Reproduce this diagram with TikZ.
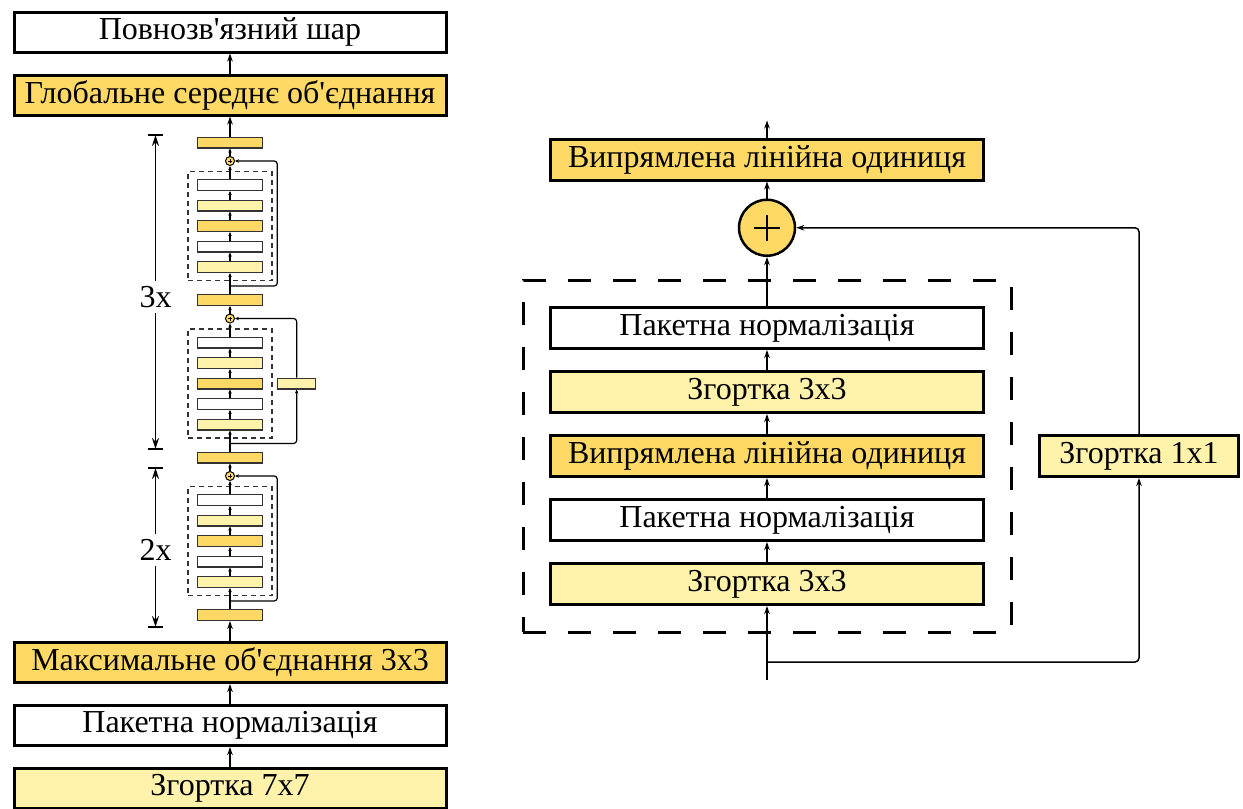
\documentclass[tikz,border=0pt]{standalone}
\usepackage{fontspec}
\setmainfont{Liberation Serif}[Ligatures=TeXOff]
\usetikzlibrary{positioning,fit,arrows.meta}
\definecolor{gold}{HTML}{FFD966}
\definecolor{pale}{HTML}{FFF3AC}
\tikzset{
	node distance=20pt, % gap between the big boxes
	layer/.style={draw, line width=3pt, minimum width=432pt, minimum height=40pt, inner sep=0pt, font=\fontsize{32}{38}\selectfont}, % big boxes on the left
	wide/.style={layer, minimum width=433pt, minimum height=41pt}, % boxes of the block on the right
	mini/.style={draw=black!80, line width=1.3pt, minimum width=64.7pt, minimum height=10.7pt, inner sep=0pt}, % small boxes inside a stage
	sum/.style={draw, circle, fill=gold, line width=1pt, minimum size=9pt, inner sep=0pt,
		path picture={\draw[line width=0.6pt] (path picture bounding box.center) +(-2pt,0) -- +(2pt,0) +(0,-2pt) -- +(0,2pt);}},
	flow/.style={-{Stealth[length=8pt,width=5.5pt]}, line width=1.5pt},
	link/.style={-{Stealth[length=4pt,width=3.5pt]}, line width=1.2pt},
	group/.style={draw=black!80, dash pattern=on 5pt off 4pt, line width=1.5pt, inner xsep=9pt, inner ysep=7.5pt}, % dashed frame of a stage
	count/.style={font=\fontsize{32}{38}\selectfont, inner sep=5pt},
	tick/.style={-{Stealth[length=11pt,width=7pt]}, line width=1.5pt},
}
\begin{document}
\begin{tikzpicture}[x=1pt,y=-1pt]
	\useasboundingbox (0,0) rectangle (1243,809);
	% left: the whole network
	\node[layer, fill=pale] (conv) at (230,788.5) {Згортка 7x7};
	\node[layer, above=of conv] (bn) {Пакетна нормалізація};
	\node[layer, fill=gold, above=of bn] (pool) {Максимальне об'єднання 3x3};
	\node[mini, fill=gold, above=of pool] (g0) {};
	% stage 1
	\node[mini, fill=pale, above=21pt of g0] (a1) {};
	\node[mini, above=8.5pt of a1] (a2) {};
	\node[mini, fill=gold, above=8.5pt of a2] (a3) {};
	\node[mini, fill=pale, above=8.5pt of a3] (a4) {};
	\node[mini, above=8.5pt of a4] (a5) {};
	\node[sum, above=13pt of a5] (sa) {};
	\node[mini, fill=gold, above=7.5pt of sa] (g1) {};
	% stage 2
	\node[mini, fill=pale, above=21pt of g1] (b1) {};
	\node[mini, above=8.5pt of b1] (b2) {};
	\node[mini, fill=gold, above=8.5pt of b2] (b3) {};
	\node[mini, fill=pale, above=8.5pt of b3] (b4) {};
	\node[mini, above=8.5pt of b4] (b5) {};
	\node[sum, above=13pt of b5] (sb) {};
	\node[mini, fill=gold, above=7.5pt of sb] (g2) {};
	\node[mini, fill=pale, minimum width=38pt, right=14pt of b3] (proj) {};
	% stage 3
	\node[mini, fill=pale, above=21pt of g2] (c1) {};
	\node[mini, above=8.5pt of c1] (c2) {};
	\node[mini, fill=gold, above=8.5pt of c2] (c3) {};
	\node[mini, fill=pale, above=8.5pt of c3] (c4) {};
	\node[mini, above=8.5pt of c4] (c5) {};
	\node[sum, above=13pt of c5] (sc) {};
	\node[mini, fill=gold, above=7.5pt of sc] (g3) {};
	\node[layer, fill=gold, above=of g3] (gap) {Глобальне середнє об'єднання};
	\node[layer, above=of gap] (fc) {Повнозв'язний шар};
	
	\node[group, fit=(a1)(a5)] (da) {};
	\node[group, fit=(b1)(b5)] (db) {};
	\node[group, fit=(c1)(c5)] (dc) {};
	
	\draw[flow] (conv) edge (bn) (bn) edge (pool) (pool) edge (g0)
		(g3) edge (gap) (gap) edge (fc);
	\draw[link] (g0) edge (a1) (a1) edge (a2) (a2) edge (a3) (a3) edge (a4) (a4) edge (a5) (a5) edge (sa) (sa) edge (g1);
	\draw[link] (g1) edge (b1) (b1) edge (b2) (b2) edge (b3) (b3) edge (b4) (b4) edge (b5) (b5) edge (sb) (sb) edge (g2);
	\draw[link] (g2) edge (c1) (c1) edge (c2) (c2) edge (c3) (c3) edge (c4) (c4) edge (c5) (c5) edge (sc) (sc) edge (g3);
	
	% shortcuts
	\coordinate[above=8pt of g0] (fa);
	\coordinate[above=8pt of g1] (fb);
	\coordinate[above=8pt of g2] (fc3);
	\coordinate[right=4.5pt of da] (ra);
	\coordinate[right=4.5pt of dc] (rc);
	\draw[link, rounded corners=3pt] (fa) -| (ra |- sa) -- (sa);
	\draw[link, rounded corners=3pt] (fb) -| (proj);
	\draw[link, rounded corners=3pt] (proj) |- (sb);
	\draw[link, rounded corners=3pt] (fc3) -| (rc |- sc) -- (sc);
	
	% repeat counts
	\node[count] (n3) at (155.5,297) {3x};
	\coordinate (n3t) at (155.5,135);
	\coordinate (n3b) at (155.5,449);
	\node[count] (n2) at (155.5,550) {2x};
	\coordinate (n2t) at (155.5,468);
	\coordinate (n2b) at (155.5,627);
	\draw[tick] (n3) edge (n3t) (n3) edge (n3b) (n2) edge (n2t) (n2) edge (n2b);
	\draw[line width=1.5pt] ([xshift=-7.5pt]n3t) -- ([xshift=7.5pt]n3t)
		([xshift=-7.5pt]n3b) -- ([xshift=7.5pt]n3b)
		([xshift=-7.5pt]n2t) -- ([xshift=7.5pt]n2t)
		([xshift=-7.5pt]n2b) -- ([xshift=7.5pt]n2b);
	
	% right: one residual block
	\node[wide, fill=pale] (rconv1) at (767,584) {Згортка 3x3};
	\node[wide, above=of rconv1] (rbn1) {Пакетна нормалізація};
	\node[wide, fill=gold, above=of rbn1] (rrelu1) {Випрямлена лінійна одиниця};
	\node[wide, fill=pale, above=of rrelu1] (rconv2) {Згортка 3x3};
	\node[wide, above=of rconv2] (rbn2) {Пакетна нормалізація};
	\node[draw, circle, fill=gold, line width=2.5pt, minimum size=56pt, above=49pt of rbn2] (add) {};
	\node[wide, fill=gold, above=17pt of add] (rrelu2) {Випрямлена лінійна одиниця};
	\node[wide, fill=pale, minimum width=199pt, right=53pt of rrelu1] (short) {Згортка 1x1};
	\node[draw, dash pattern=on 23pt off 22pt, line width=3pt, inner xsep=26pt, inner ysep=26pt, fit=(rbn2)(rconv1)] (blk) {};
	\draw[line width=2.5pt] ([xshift=-13pt]add.center) -- ([xshift=13pt]add.center)
		([yshift=-13pt]add.center) -- ([yshift=13pt]add.center);
	
	\coordinate[below=74pt of rconv1] (in);
	\coordinate[below=56pt of rconv1] (fork);
	\coordinate[above=17pt of rrelu2] (out);
	\draw[flow] (in) -- (rconv1);
	\draw[flow] (rconv1) edge (rbn1) (rbn1) edge (rrelu1) (rrelu1) edge (rconv2) (rconv2) edge (rbn2)
		(rbn2) edge (add) (add) edge (rrelu2) (rrelu2) edge (out);
	\draw[flow, rounded corners=4pt] (fork) -| (short);
	\draw[flow, rounded corners=4pt] (short) |- (add);
\end{tikzpicture}
\end{document}
